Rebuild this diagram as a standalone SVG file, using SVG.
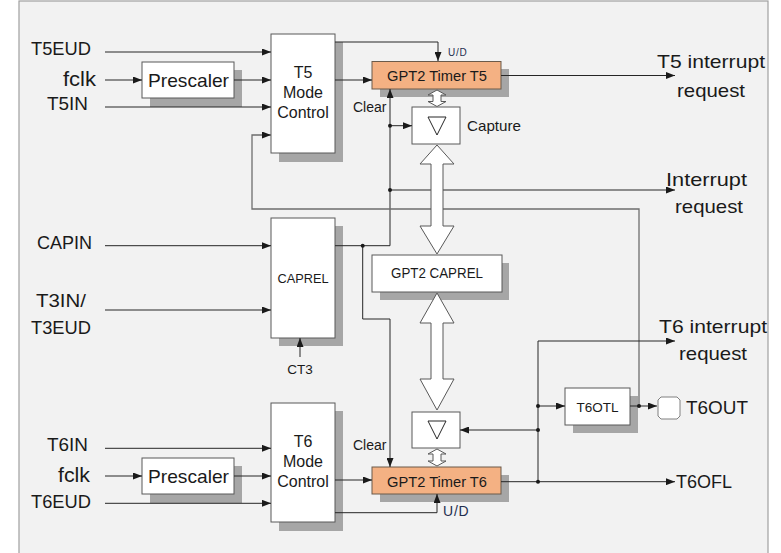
<svg xmlns="http://www.w3.org/2000/svg" width="781" height="553" viewBox="0 0 781 553">
<defs>
<marker id="ah" markerUnits="userSpaceOnUse" markerWidth="9" markerHeight="7" refX="9" refY="3.5" orient="auto"><path d="M0,0 L9,3.5 L0,7 z" fill="#1a1a1a"/></marker>
</defs>
<style>
.t{font-family:"Liberation Sans",Arial,sans-serif;fill:#1a1a1a}
.big{font-size:18px}
.rt{font-size:19px}
.in{font-size:14px}
.box{fill:#ffffff;stroke:#595959;stroke-width:1}
.tim{fill:#f4b183;stroke:#6b5a4a;stroke-width:1}
.sh{fill:#a6a6a6}
.w{fill:none;stroke:#262626;stroke-width:1}
.fb{fill:none;stroke:#6e6e6e;stroke-width:1.3}
.ar{marker-end:url(#ah)}
.dot{fill:#1a1a1a}
.ha{fill:#ffffff;stroke:#595959;stroke-width:1}
.ud{fill:#1f2f4f}
</style>
<rect x="0" y="0" width="781" height="553" fill="#ffffff"/>
<rect x="19" y="1" width="749" height="560" fill="#f2f2f2" stroke="#a0a0a0" stroke-width="1.2"/>

<g id="labels-left">
<text class="t big" x="31" y="55" textLength="60" lengthAdjust="spacingAndGlyphs">T5EUD</text>
<text class="t" x="63" y="86" font-size="21" textLength="33" lengthAdjust="spacingAndGlyphs">fclk</text>
<text class="t big" x="47" y="110" textLength="41" lengthAdjust="spacingAndGlyphs">T5IN</text>
<text class="t big" x="37" y="249" textLength="55" lengthAdjust="spacingAndGlyphs">CAPIN</text>
<text class="t big" x="36" y="307" textLength="50" lengthAdjust="spacingAndGlyphs">T3IN/</text>
<text class="t big" x="31" y="334" textLength="60" lengthAdjust="spacingAndGlyphs">T3EUD</text>
<text class="t big" x="47" y="451" textLength="41" lengthAdjust="spacingAndGlyphs">T6IN</text>
<text class="t" x="58" y="482" font-size="21" textLength="32" lengthAdjust="spacingAndGlyphs">fclk</text>
<text class="t big" x="31" y="508" textLength="60" lengthAdjust="spacingAndGlyphs">T6EUD</text>
</g>

<g id="prescaler1">
<rect class="sh" x="150" y="70" width="92" height="37"/>
<rect class="box" x="142" y="62" width="92" height="36"/>
<text class="t" font-size="19" x="148" y="86.5" textLength="81" lengthAdjust="spacingAndGlyphs">Prescaler</text>
</g>
<g id="prescaler2">
<rect class="sh" x="150" y="466" width="92" height="37"/>
<rect class="box" x="142" y="458" width="92" height="36"/>
<text class="t" font-size="19" x="148" y="482.5" textLength="81" lengthAdjust="spacingAndGlyphs">Prescaler</text>
</g>

<g id="t5mode">
<rect class="sh" x="279" y="42" width="64" height="120"/>
<rect class="box" x="271" y="34" width="64" height="119"/>
<text class="t" font-size="16" x="303" y="78" text-anchor="middle">T5</text>
<text class="t" font-size="16" x="303" y="98" text-anchor="middle">Mode</text>
<text class="t" font-size="16" x="303" y="118" text-anchor="middle">Control</text>
</g>

<g id="caprel">
<rect class="sh" x="279" y="226" width="64" height="120"/>
<rect class="box" x="271" y="218" width="64" height="120"/>
<text class="t" font-size="13.5" x="303" y="283" text-anchor="middle" textLength="51" lengthAdjust="spacingAndGlyphs">CAPREL</text>
<text class="t" font-size="13.5" x="300" y="374" text-anchor="middle">CT3</text>
</g>

<g id="t6mode">
<rect class="sh" x="279" y="411" width="64" height="120"/>
<rect class="box" x="271" y="403" width="64" height="119"/>
<text class="t" font-size="16" x="303" y="447" text-anchor="middle">T6</text>
<text class="t" font-size="16" x="303" y="467" text-anchor="middle">Mode</text>
<text class="t" font-size="16" x="303" y="487" text-anchor="middle">Control</text>
</g>

<g id="timer-t5">
<rect class="sh" x="380" y="69" width="129" height="28"/>
<rect class="tim" x="372" y="61.5" width="129" height="27.5"/>
<text class="t" font-size="14.5" x="387" y="81" textLength="100" lengthAdjust="spacingAndGlyphs">GPT2 Timer T5</text>
<text class="t ud" font-size="10" x="448" y="56" letter-spacing="0.8">U/D</text>
<text class="t in" x="353" y="112">Clear</text>
</g>

<g id="capture-t5">
<rect class="box" x="412" y="107" width="48" height="37"/>
<polygon points="428,117 446,117 437,135" fill="none" stroke="#262626" stroke-width="1"/>
<text class="t" font-size="14.5" x="467" y="131" textLength="54" lengthAdjust="spacingAndGlyphs">Capture</text>
</g>

<g id="gpt2-caprel">
<rect class="sh" x="380" y="263" width="129" height="37"/>
<rect class="box" x="372" y="255" width="130" height="37"/>
<text class="t" font-size="14" x="391" y="278" textLength="92" lengthAdjust="spacingAndGlyphs">GPT2 CAPREL</text>
</g>

<g id="capture-t6">
<rect class="box" x="412" y="412" width="48" height="36"/>
<polygon points="428,421 446,421 437,439" fill="none" stroke="#262626" stroke-width="1"/>
</g>

<g id="timer-t6">
<rect class="sh" x="380" y="475" width="129" height="27"/>
<rect class="tim" x="372" y="467" width="129" height="27"/>
<text class="t" font-size="14.5" x="387" y="486.5" textLength="100" lengthAdjust="spacingAndGlyphs">GPT2 Timer T6</text>
<text class="t in" x="353" y="450">Clear</text>
<text class="t ud" font-size="14" x="443" y="516" letter-spacing="0.8">U/D</text>
</g>

<g id="t6otl">
<rect class="sh" x="573" y="396" width="65" height="37"/>
<rect class="box" x="565" y="388" width="65" height="37"/>
<text class="t" font-size="13.5" x="597.5" y="411.5" text-anchor="middle" textLength="42" lengthAdjust="spacingAndGlyphs">T6OTL</text>
</g>

<g id="t6out">
<polygon points="661,397 677,397 680,400 680,416 677,419 661,419 658,416 658,400" fill="#ffffff" stroke="#808080" stroke-width="1"/>
<text class="t rt" x="686" y="414" textLength="62" lengthAdjust="spacingAndGlyphs">T6OUT</text>
</g>

<g id="labels-right">
<text class="t rt" x="657" y="68" textLength="108" lengthAdjust="spacingAndGlyphs">T5 interrupt</text>
<text class="t rt" x="677" y="97" textLength="68" lengthAdjust="spacingAndGlyphs">request</text>
<text class="t rt" x="666" y="186" textLength="81" lengthAdjust="spacingAndGlyphs">Interrupt</text>
<text class="t rt" x="675" y="213" textLength="68" lengthAdjust="spacingAndGlyphs">request</text>
<text class="t rt" x="659" y="333" textLength="108" lengthAdjust="spacingAndGlyphs">T6 interrupt</text>
<text class="t rt" x="679" y="360" textLength="68" lengthAdjust="spacingAndGlyphs">request</text>
<text class="t big" x="676" y="488" textLength="56" lengthAdjust="spacingAndGlyphs">T6OFL</text>
</g>

<g id="connectors">
<path class="w ar" d="M105,52 H271"/>
<path class="w ar" d="M105,80 H142"/>
<path class="w ar" d="M234,80 H271"/>
<path class="w ar" d="M105,107 H271"/>
<path class="w ar" d="M335,42 H438 V61"/>
<path class="w ar" d="M335,80 H372"/>
<path class="w ar" d="M501,75.5 H675"/>
<path class="w ar" d="M335,245.7 H390 V89"/>
<path class="w ar" d="M390,125.7 H412"/>
<path class="w ar" d="M390,190 H675"/>
<path class="fb ar" d="M639,406 V209 H252 V135 H271"/>
<path class="w ar" d="M105,245.7 H271"/>
<path class="w ar" d="M105,310 H271"/>
<path class="w ar" d="M300,357 V338"/>
<path class="w ar" d="M362.7,245.7 V319 H390 V467"/>
<path class="w ar" d="M105,448.3 H271"/>
<path class="w ar" d="M105,476 H142"/>
<path class="w ar" d="M234,476 H271"/>
<path class="w ar" d="M105,503.3 H271"/>
<path class="w ar" d="M335,480 H372"/>
<path class="w ar" d="M335,512.7 H437 V494"/>
<path class="w ar" d="M501,481.7 H675"/>
<path class="w" d="M538,341 V481.7"/>
<path class="w ar" d="M538,341 H675"/>
<path class="w ar" d="M538,430 H460"/>
<path class="w ar" d="M538,406 H565"/>
<path class="w ar" d="M630,406 H657"/>
<circle class="dot" cx="390" cy="125.7" r="2"/>
<circle class="dot" cx="390" cy="190" r="2"/>
<circle class="dot" cx="362.7" cy="245.7" r="2"/>
<circle class="dot" cx="538" cy="406" r="2"/>
<circle class="dot" cx="538" cy="430" r="2"/>
<circle class="dot" cx="538" cy="481.7" r="2"/>
<circle class="dot" cx="639" cy="406" r="2"/>
<polygon class="ha" points="437,90 446,95 441,95 441,101.5 446,101.5 437,106.5 428,101.5 433,101.5 433,95 428,95"/>
<polygon class="ha" points="437,449 446,454 441,454 441,461 446,461 437,466 428,461 433,461 433,454 428,454"/>
<polygon class="ha" points="437,145 454,164 443,164 443,226 454,226 437,254 420,226 431,226 431,164 420,164"/>
<polygon class="ha" points="437,293 454,323 443,323 443,379 454,379 437,410 420,379 431,379 431,323 420,323"/>
</g>
</svg>
